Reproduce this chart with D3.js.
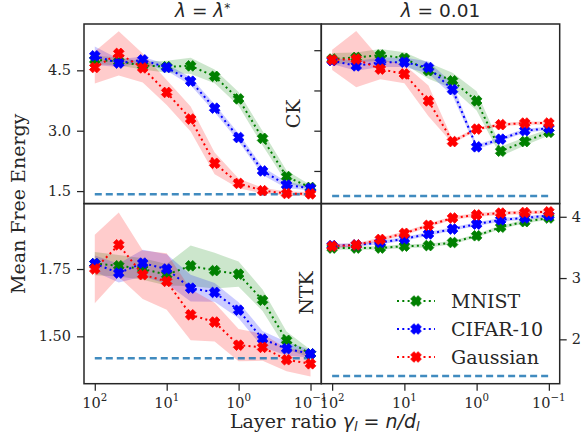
<!DOCTYPE html>
<html><head><meta charset="utf-8">
<script src="https://cdn.jsdelivr.net/npm/d3@7"></script>
<style>body{margin:0;background:#fff}svg{display:block}</style>
</head><body><svg id="c" width="583" height="437"></svg>
<script>
// ---------------- data ----------------
const gamma = [100, 46.42, 21.54, 10, 4.642, 2.154, 1, 0.4642, 0.2154, 0.1];
const datasets = ["MNIST", "CIFAR-10", "Gaussian"];
const colors = ["#008000", "#0000ff", "#ff0000"];
const xTicks = [100, 10, 1, 0.1];
const xTickExp = ["2", "1", "0", "\u22121"];

// CK, lambda = lambda*
const ckStarMnist = [4.76, 4.72, 4.62, 4.59, 4.61, 4.35, 3.79, 2.81, 1.86, 1.59];
const ckStarCifar = [4.86, 4.68, 4.76, 4.57, 4.23, 3.56, 2.83, 2.00, 1.65, 1.57];
const ckStarGauss = [4.57, 4.92, 4.56, 3.95, 3.29, 2.19, 1.69, 1.51, 1.44, 1.43];
const ckStarMnistStd = [0.10, 0.10, 0.10, 0.15, 0.20, 0.17, 0.17, 0.18, 0.15, 0.06];
const ckStarCifarStd = [0.23, 0.10, 0.08, 0.08, 0.10, 0.10, 0.10, 0.10, 0.08, 0.05];
const ckStarGaussStd = [0.40, 0.55, 0.36, 0.31, 0.31, 0.27, 0.12, 0.07, 0.05, 0.05];
const ckStarBaseline = 1.42;

// CK, lambda = 0.01
const ck001Mnist = [4.78, 4.82, 4.88, 4.80, 4.49, 4.24, 3.74, 2.49, 2.73, 2.96];
const ck001Cifar = [4.74, 4.61, 4.70, 4.70, 4.57, 4.02, 2.60, 2.79, 3.00, 3.06];
const ck001Gauss = [4.76, 4.78, 4.53, 4.41, 3.74, 2.73, 3.04, 3.15, 3.19, 3.19];
const ck001MnistStd = [0.15, 0.12, 0.15, 0.15, 0.20, 0.20, 0.24, 0.12, 0.10, 0.08];
const ck001CifarStd = [0.08, 0.12, 0.12, 0.12, 0.15, 0.15, 0.06, 0.05, 0.05, 0.04];
const ck001GaussStd = [0.25, 0.70, 0.25, 0.23, 0.38, 0.05, 0.04, 0.04, 0.04, 0.04];
const ck001Baseline = 1.38;

// NTK, lambda = lambda*
const ntkStarMnist = [1.770, 1.762, 1.750, 1.729, 1.762, 1.744, 1.731, 1.634, 1.485, 1.435];
const ntkStarCifar = [1.770, 1.735, 1.772, 1.750, 1.679, 1.663, 1.597, 1.490, 1.454, 1.435];
const ntkStarGauss = [1.750, 1.840, 1.729, 1.704, 1.580, 1.553, 1.467, 1.459, 1.413, 1.398];
const ntkStarMnistStd = [0.043, 0.040, 0.040, 0.040, 0.075, 0.066, 0.047, 0.040, 0.033, 0.015];
const ntkStarCifarStd = [0.030, 0.035, 0.050, 0.055, 0.050, 0.035, 0.030, 0.030, 0.025, 0.015];
const ntkStarGaussStd = [0.127, 0.120, 0.090, 0.105, 0.095, 0.072, 0.060, 0.050, 0.043, 0.047];
const ntkStarBaseline = 1.419;

// NTK, lambda = 0.01
const ntk001Mnist = [3.49, 3.49, 3.49, 3.52, 3.53, 3.58, 3.69, 3.83, 3.92, 3.98];
const ntk001Cifar = [3.53, 3.54, 3.58, 3.64, 3.72, 3.80, 3.88, 3.95, 3.98, 4.02];
const ntk001Gauss = [3.52, 3.54, 3.63, 3.73, 3.86, 3.98, 4.03, 4.06, 4.07, 4.08];
const ntk001MnistStd = [0.03, 0.03, 0.03, 0.03, 0.03, 0.03, 0.03, 0.03, 0.03, 0.03];
const ntk001CifarStd = [0.03, 0.03, 0.03, 0.03, 0.03, 0.03, 0.03, 0.03, 0.03, 0.03];
const ntk001GaussStd = [0.03, 0.03, 0.03, 0.03, 0.03, 0.03, 0.03, 0.03, 0.03, 0.03];
const ntk001Baseline = 1.40;

const topTicksLeft = [1.5, 3.0, 4.5];
const topTicksRight = [2, 3, 4, 5];
const ntkStarTicks = [1.50, 1.75];
const ntk001Ticks = [2, 3, 4];

// ---------------- layout ----------------
const L = 84, M = 321.3, R = 559.7, T = 24, H = 203.6, B = 383.7;
const SERIF = "'DejaVu Serif', serif";
const SANS = "'DejaVu Sans', sans-serif";
const INK = "#262626";
const svg = d3.select("#c");

const panels = [
  {x0: L, x1: M, y0: T, y1: H, dom: [1.189, 5.651],
   series: [[ckStarMnist, ckStarMnistStd], [ckStarCifar, ckStarCifarStd], [ckStarGauss, ckStarGaussStd]],
   base: ckStarBaseline, yticks: topTicksLeft, fmt: d3.format(".1f"), side: "left", labels: true, xlab: false},
  {x0: M, x1: R, y0: T, y1: H, dom: [1.189, 5.651],
   series: [[ck001Mnist, ck001MnistStd], [ck001Cifar, ck001CifarStd], [ck001Gauss, ck001GaussStd]],
   base: ck001Baseline, yticks: topTicksRight, fmt: d3.format("d"), side: "left", labels: false, xlab: false},
  {x0: L, x1: M, y0: H, y1: B, dom: [1.324, 1.993],
   series: [[ntkStarMnist, ntkStarMnistStd], [ntkStarCifar, ntkStarCifarStd], [ntkStarGauss, ntkStarGaussStd]],
   base: ntkStarBaseline, yticks: ntkStarTicks, fmt: d3.format(".2f"), side: "left", labels: true, xlab: true},
  {x0: M, x1: R, y0: H, y1: B, dom: [1.276, 4.215],
   series: [[ntk001Mnist, ntk001MnistStd], [ntk001Cifar, ntk001CifarStd], [ntk001Gauss, ntk001GaussStd]],
   base: ntk001Baseline, yticks: ntk001Ticks, fmt: d3.format("d"), side: "right", labels: true, xlab: true}
];

function xMarker(s) {
  // filled "X" marker: plus shape rotated by 45 degrees
  const a = s * 0.22, b = s * 0.5;
  const pts = [[a,b],[a,a],[b,a],[b,-a],[a,-a],[a,-b],[-a,-b],[-a,-a],[-b,-a],[-b,a],[-a,a],[-a,b]];
  const c = Math.SQRT1_2;
  return "M" + pts.map(([px,py]) => [(px - py) * c, (px + py) * c].map(v => v.toFixed(2)).join(",")).join("L") + "Z";
}
const MK = xMarker(10.5);

panels.forEach(p => {
  const x = d3.scaleLog().domain([Math.pow(10, 2.15), Math.pow(10, -1.15)]).range([p.x0, p.x1]);
  const y = d3.scaleLinear().domain(p.dom).range([p.y1, p.y0]);
  const g = svg.append("g");

  // bands
  p.series.forEach(([m, s], i) => {
    const area = d3.area().x((d, k) => x(gamma[k])).y0((d, k) => y(m[k] - s[k])).y1((d, k) => y(m[k] + s[k]));
    g.append("path").attr("d", area(m)).attr("fill", colors[i]).attr("fill-opacity", 0.2);
  });

  // baseline dashed
  g.append("line").attr("x1", x(gamma[0])).attr("x2", x(gamma[gamma.length - 1]))
    .attr("y1", y(p.base)).attr("y2", y(p.base))
    .attr("stroke", "#1f77b4").attr("stroke-opacity", 0.85).attr("stroke-width", 2.5)
    .attr("stroke-dasharray", "7,4");

  // lines + markers
  p.series.forEach(([m], i) => {
    const line = d3.line().x((d, k) => x(gamma[k])).y(d => y(d));
    g.append("path").attr("d", line(m)).attr("fill", "none").attr("stroke", colors[i])
      .attr("stroke-width", 2).attr("stroke-dasharray", "2,3.3");
    g.selectAll(null).data(m).enter().append("path")
      .attr("d", MK).attr("transform", (d, k) => `translate(${x(gamma[k])},${y(d)})`)
      .attr("fill", colors[i]).attr("stroke", colors[i]).attr("stroke-width", 0.8);
  });

  // frame
  g.append("rect").attr("x", p.x0).attr("y", p.y0).attr("width", p.x1 - p.x0).attr("height", p.y1 - p.y0)
    .attr("fill", "none").attr("stroke", INK).attr("stroke-width", 1.5);

  // y axis
  const ax = (p.side === "left" ? d3.axisLeft(y) : d3.axisRight(y))
    .tickValues(p.yticks).tickSize(7).tickPadding(p.side === "left" ? 6 : 5)
    .tickFormat(p.labels ? p.fmt : () => "");
  const ag = g.append("g").attr("transform", `translate(${p.side === "left" ? p.x0 : p.x1},0)`).call(ax);
  ag.select(".domain").remove();
  ag.selectAll("line").attr("stroke", INK).attr("stroke-width", 1.25);
  ag.selectAll("text").attr("font-family", SERIF).attr("font-size", 14.5).attr("fill", INK);

  // x axis
  if (p.xlab) {
    const xa = d3.axisBottom(x).tickValues(xTicks).tickSize(7).tickFormat(() => "");
    const xg = g.append("g").attr("transform", `translate(0,${p.y1})`).call(xa);
    xg.select(".domain").remove();
    xg.selectAll("line").attr("stroke", INK).attr("stroke-width", 1.25);
    xTicks.forEach((v, k) => {
      const t = g.append("text").attr("x", x(v)).attr("y", 408.3).attr("text-anchor", "middle")
        .attr("font-family", SERIF).attr("font-size", 14.5).attr("fill", INK);
      t.append("tspan").text("10");
      t.append("tspan").attr("font-size", 10.2).attr("dy", -7.5).text(xTickExp[k]);
    });
  }
});

// titles
function lam(t) { t.append("tspan").attr("font-style", "italic").text("\u03bb"); }
const t1 = svg.append("text").attr("x", (L + M) / 2).attr("y", 17).attr("text-anchor", "middle")
  .attr("font-family", SANS).attr("font-size", 18.5).attr("fill", INK);
lam(t1); t1.append("tspan").text(" = "); lam(t1);
t1.append("tspan").attr("font-size", 12).attr("dy", -5).text("*");
const t2 = svg.append("text").attr("x", (M + R) / 2).attr("y", 17).attr("text-anchor", "middle")
  .attr("font-family", SANS).attr("font-size", 18.5).attr("fill", INK);
lam(t2); t2.append("tspan").text(" = 0.01");

// row labels
svg.append("text").attr("transform", "translate(293,114) rotate(-90)").attr("text-anchor", "middle")
  .attr("dominant-baseline", "central").attr("font-family", SERIF).attr("font-size", 19).attr("fill", INK).text("CK");
svg.append("text").attr("transform", "translate(306,293) rotate(-90)").attr("text-anchor", "middle")
  .attr("dominant-baseline", "central").attr("font-family", SERIF).attr("font-size", 19).attr("fill", INK).text("NTK");

// y label
svg.append("text").attr("transform", `translate(17.5,${(T + B) / 2}) rotate(-90)`).attr("text-anchor", "middle")
  .attr("dominant-baseline", "central").attr("font-family", SERIF).attr("font-size", 19).attr("fill", INK)
  .text("Mean Free Energy");

// x label
const xl = svg.append("text").attr("x", (L + R) / 2 + 3).attr("y", 428).attr("text-anchor", "middle")
  .attr("font-family", SERIF).attr("font-size", 19).attr("fill", INK);
xl.append("tspan").text("Layer ratio ");
xl.append("tspan").attr("font-family", SANS).attr("font-style", "italic").text("\u03b3");
xl.append("tspan").attr("font-family", SANS).attr("font-style", "italic").attr("font-size", 13).attr("dy", 3).text("l");
xl.append("tspan").attr("font-family", SANS).attr("dy", -3).text(" = ");
xl.append("tspan").attr("font-family", SANS).attr("font-style", "italic").text("n/d");
xl.append("tspan").attr("font-family", SANS).attr("font-style", "italic").attr("font-size", 13).attr("dy", 3).text("l");

// legend
const lg = svg.append("g");
const legY = [301, 329, 357];
datasets.forEach((name, i) => {
  lg.append("line").attr("x1", 397).attr("x2", 435).attr("y1", legY[i]).attr("y2", legY[i])
    .attr("stroke", colors[i]).attr("stroke-width", 2).attr("stroke-dasharray", "2,3.3");
  lg.append("path").attr("d", MK).attr("transform", `translate(416,${legY[i]})`)
    .attr("fill", colors[i]).attr("stroke", colors[i]).attr("stroke-width", 0.8);
  lg.append("text").attr("x", 451).attr("y", legY[i]).attr("dominant-baseline", "central")
    .attr("font-family", SERIF).attr("font-size", 19).attr("fill", INK).text(name);
});
</script></body></html>
